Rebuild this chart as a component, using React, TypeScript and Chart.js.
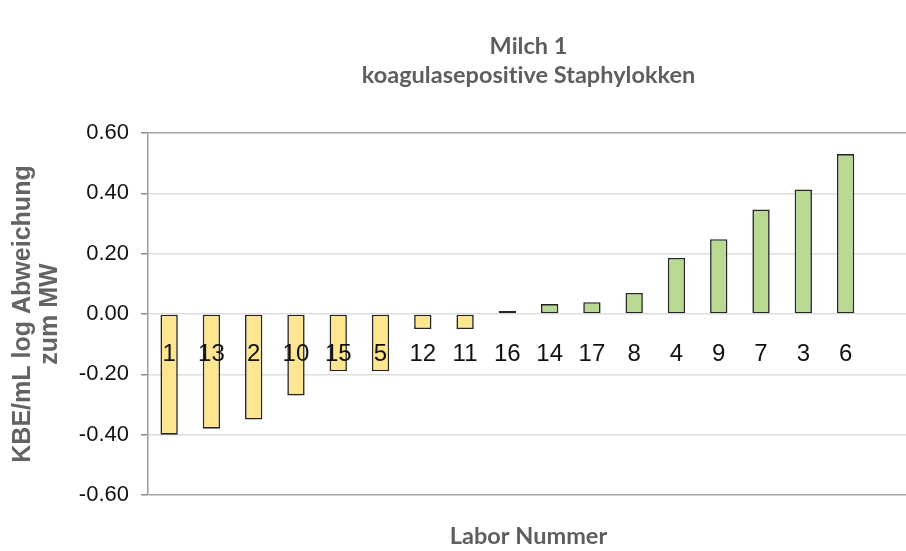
import { useEffect, useRef } from "react";
import { Chart, registerables } from "chart.js";

Chart.register(...registerables);

const labs = ["1", "13", "2", "10", "15", "5", "12", "11", "16", "14", "17", "8", "4", "9", "7", "3", "6"];
const values = [-0.40, -0.38, -0.35, -0.27, -0.19, -0.19, -0.05, -0.05, 0.01, 0.033, 0.039, 0.07, 0.186, 0.248, 0.346, 0.413, 0.53];
const titleLines = ["Milch 1", "koagulasepositive Staphylokken"];
const yTitleLines = ["KBE/mL log Abweichung", "zum MW"];
const xTitle = "Labor Nummer";
const yMin = -0.6;
const yMax = 0.6;
const yStep = 0.2;
const LABEL_VALUE = -0.133;

const YELLOW = "#FDE68F";
const GREEN = "#B7D992";

const noLigaturesPlugin = {
  id: "noLigatures",
  beforeDraw(chart: any) {
    const ctx = chart.ctx as any;
    if ("letterSpacing" in ctx) ctx.letterSpacing = "0.01px";
  },
};

const barLabelsPlugin = {
  id: "barLabels",
  afterDatasetsDraw(chart: any) {
    const { ctx } = chart;
    const xs = chart.scales.x;
    const ys = chart.scales.y;
    ctx.save();
    ctx.font = "24px 'Liberation Sans', Arial, sans-serif";
    ctx.fillStyle = "#111111";
    ctx.textAlign = "center";
    ctx.textBaseline = "middle";
    labs.forEach((l, i) => {
      ctx.fillText(l, xs.getPixelForValue(i), ys.getPixelForValue(LABEL_VALUE));
    });
    ctx.restore();
  },
};

export default function App() {
  const ref = useRef<HTMLCanvasElement | null>(null);
  useEffect(() => {
    if (!ref.current) return;
    const chart = new Chart(ref.current, {
      type: "bar",
      data: {
        labels: [...labs, ""],
        datasets: [
          {
            data: values,
            backgroundColor: values.map((v) => (v < 0 ? YELLOW : GREEN)),
            borderColor: "#262626",
            borderWidth: 1.6,
            borderSkipped: false,
            barPercentage: 0.41,
            categoryPercentage: 1,
          },
        ],
      },
      options: {
        animation: false,
        responsive: false,
        devicePixelRatio: 1,
        layout: { padding: { top: 0, right: 3, bottom: 0, left: 0 } },
        plugins: {
          legend: { display: false },
          tooltip: { enabled: false },
          title: {
            display: true,
            fullSize: false,
            text: titleLines,
            color: "#5d5e60",
            font: { family: "Lato, 'Open Sans', sans-serif", size: 23.5, weight: "bold", lineHeight: 29 / 23.5 },
            padding: { top: 31.5, bottom: 43.5 },
          },
        },
        scales: {
          x: {
            grid: { display: false },
            border: { display: false },
            ticks: { display: false },
            title: {
              display: true,
              text: xTitle,
              color: "#5d5e60",
              font: { family: "Lato, 'Open Sans', sans-serif", size: 23.5, weight: "bold", lineHeight: 1.2 },
              padding: { top: 0, bottom: 0 },
            },
            afterFit: (s: any) => {
              s.height = 56;
            },
          },
          y: {
            min: yMin,
            max: yMax,
            ticks: {
              stepSize: yStep,
              color: "#111111",
              padding: 12,
              font: { family: "'Liberation Sans', Arial, sans-serif", size: 22 },
              callback: (v: any) => (Math.abs(Number(v)) < 1e-9 ? "0.00" : Number(v).toFixed(2)),
            },
            grid: {
              color: (c: any) =>
                c.tick && Math.abs(Math.abs(c.tick.value) - 0.6) < 1e-6 ? "#a3a3a3" : "#dedede",
              lineWidth: 1.5,
              tickLength: 7,
              tickColor: "#8a8a8a",
            },
            border: { display: true, color: "#9a9a9a", width: 1.5 },
            title: {
              display: true,
              text: yTitleLines,
              color: "#636363",
              font: { family: "'Liberation Sans', Arial, sans-serif", size: 25, weight: "bold", lineHeight: 1.1 },
              padding: { top: 9, bottom: 0 },
            },
            afterFit: (s: any) => {
              s.width = 148;
            },
          },
        },
      },
      plugins: [noLigaturesPlugin, barLabelsPlugin],
    });
    return () => chart.destroy();
  }, []);
  return (
    <div style={{ position: "fixed", left: 0, top: 0, width: 906, height: 551, overflow: "hidden", background: "#fff" }}>
      <canvas ref={ref} width={912} height={551} style={{ display: "block", width: 912, height: 551 }} />
    </div>
  );
}
